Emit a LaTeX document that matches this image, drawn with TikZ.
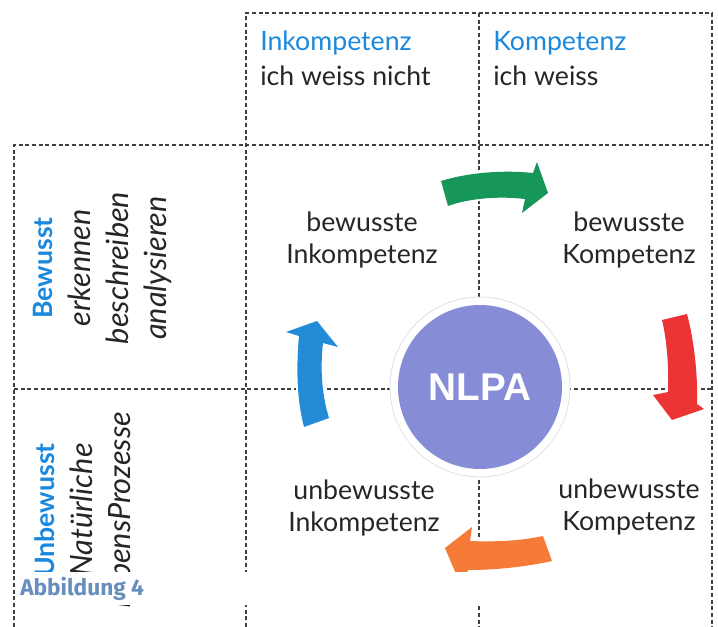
\documentclass[tikz,border=0pt]{standalone}
\usepackage{fontspec}
\setmainfont{Lato}
\newfontfamily\capfont{Fira Sans}
\newfontfamily\hubfont{Liberation Sans}
\usetikzlibrary{positioning}

\definecolor{headblue}{RGB}{26,136,220}
\definecolor{hubblue}{RGB}{134,140,214}
\definecolor{capblue}{RGB}{104,142,190}
\definecolor{arrgreen}{RGB}{22,150,88}
\definecolor{arrred}{RGB}{236,52,52}
\definecolor{arrorange}{RGB}{246,122,56}
\definecolor{arrblue}{RGB}{36,140,214}

\newcommand{\sidehead}[1]{{\color{headblue}\upshape\bfseries\fontsize{20}{28.5}\selectfont #1}}

\begin{document}
\begin{tikzpicture}[
  x=0.75pt, y=-0.75pt,
  every node/.style={inner sep=0pt},
  grid/.style={draw=black!75, line width=0.8pt, dash pattern=on 3pt off 2pt},
  head/.style={anchor=base west, font=\fontsize{20}{24}\selectfont, text=headblue},
  sub/.style={anchor=base west, font=\fontsize{20}{24}\selectfont, text=black!85},
  cell/.style={align=center, font=\fontsize{20}{24}\selectfont, text=black!85},
  side/.style={rotate=90, align=center, text=black!85,
    font=\fontsize{23}{28.5}\selectfont\itshape},
  ring/.style={circle, fill=white, draw=black!12, line width=0.6pt, minimum size=135pt},
  hub/.style={circle, fill=hubblue, text=white, minimum size=123pt,
    font=\hubfont\bfseries\fontsize{29}{34}\selectfont},
  fatarrow/.style={preaction={draw=white, line width=3pt, line join=round}},
]
\useasboundingbox (0,0) rectangle (718,627);

% ----- dashed grid -----
\draw[grid] (246,627) -- (246,13) -- (712,13) -- (712,627);
\draw[grid] (479,13) -- (479,627);
\draw[grid] (14,627) -- (14,145) -- (712,145);
\draw[grid] (14,389) -- (712,389);

% ----- column headers -----
\node[head] (hinkomp) at (260,51) {Inkompetenz};
\node[sub]  (sinkomp) at (260,86) {ich weiss nicht};
\node[head] (hkomp)   at (493,51) {Kompetenz};
\node[sub]  (skomp)   at (493,86) {ich weiss};

% ----- centre circle -----
\node[ring] (nlparing) at (480,387) {};
\node[hub]  (nlpa) at (nlparing) {NLPA};

% ----- fat arrows round the circle -----
\fill[fatarrow, arrgreen]
  (441,181) .. controls (470,172) and (505,170) .. (533,173) -- (537,162)
  -- (548,193) -- (522,213) -- (525,199)
  .. controls (500,196) and (470,198) .. (448,206) -- cycle;
\fill[fatarrow, arrred]
  (662,320) -- (687,314) .. controls (694,340) and (698,375) .. (697,404)
  -- (704,409) -- (672,420) -- (653,395) -- (668,392)
  .. controls (669,370) and (667,340) .. (662,320) -- cycle;
\fill[fatarrow, arrorange]
  (543,536) .. controls (520,541) and (495,542) .. (470,541) -- (472,527)
  -- (445,548) -- (462,588) -- (468,570)
  .. controls (495,570) and (525,567) .. (552,561) -- cycle;
\fill[fatarrow, arrblue]
  (304,427) .. controls (297,400) and (296,370) .. (299,336) -- (286,332)
  -- (317,321) -- (338,347) -- (323,343)
  .. controls (320,370) and (322,395) .. (329,418) -- cycle;

% ----- quadrant labels -----
\node[cell] (bi) at (362,240) {bewusste\\Inkompetenz};
\node[cell] (bk) at (629,240) {bewusste\\Kompetenz};
\node[cell] (ui) at (364,508) {unbewusste\\Inkompetenz};
\node[cell] (uk) at (629,507) {unbewusste\\Kompetenz};

% ----- row headers (rotated) -----
\node[side] (bew) at (102,268)
  {\sidehead{Bewusst}\\erkennen\\beschreiben\\analysieren};
\node[side] (unbew) at (83,510)
  {\sidehead{Unbewusst}\\Natürliche\\LebensProzesse};

% ----- caption strip -----
\fill[white] (17,572) rectangle (709,605);
\node[anchor=base west, text=capblue, font=\capfont\bfseries\fontsize{17}{20}\selectfont]
  (caption) at (20,595) {Abbildung 4};

\end{tikzpicture}
\end{document}
